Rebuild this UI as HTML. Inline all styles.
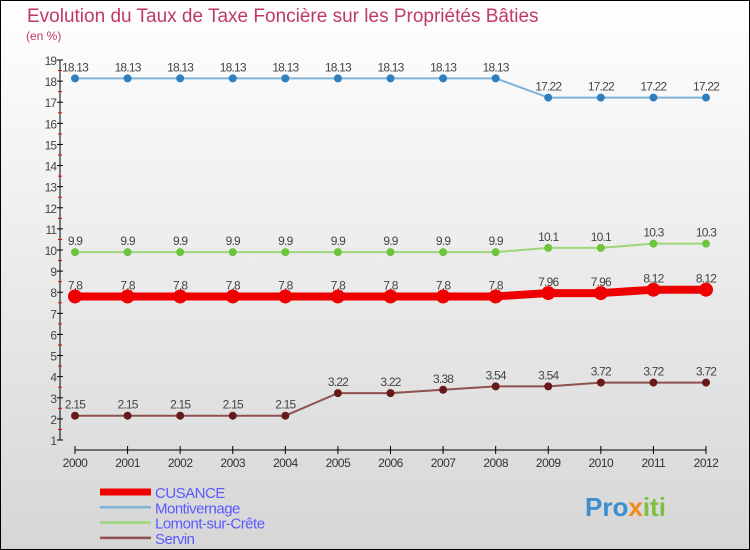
<!DOCTYPE html>
<html><head><meta charset="utf-8"><style>
body{margin:0}
svg{display:block;font-family:"Liberation Sans",sans-serif}
</style></head><body>
<svg width="750" height="550" viewBox="0 0 750 550">
<defs><linearGradient id="bg" x1="0" y1="0" x2="0" y2="1"><stop offset="0" stop-color="#ffffff"/><stop offset="1" stop-color="#d6d6d6"/></linearGradient></defs>
<rect x="0.5" y="0.5" width="749" height="549" fill="url(#bg)" stroke="#000"/>
<text x="27" y="22" font-size="19" fill="#c0386a">Evolution du Taux de Taxe Foncière sur les Propriétés Bâties</text>
<text x="26" y="40" font-size="12" fill="#c0386a">(en %)</text>
<g id="axes"></g>
<g id="series"></g>
<g id="legend"></g>
<text x="585" y="516" font-size="26" font-weight="bold" fill="#3a8fd0">Pro<tspan fill="#f08a1c">x</tspan><tspan fill="#7bc043">iti</tspan></text>
</svg>
<script>
const years=[2000,2001,2002,2003,2004,2005,2006,2007,2008,2009,2010,2011,2012];
const montivernage=[18.13,18.13,18.13,18.13,18.13,18.13,18.13,18.13,18.13,17.22,17.22,17.22,17.22];
const lomont=[9.9,9.9,9.9,9.9,9.9,9.9,9.9,9.9,9.9,10.1,10.1,10.3,10.3];
const cusance=[7.8,7.8,7.8,7.8,7.8,7.8,7.8,7.8,7.8,7.96,7.96,8.12,8.12];
const servin=[2.15,2.15,2.15,2.15,2.15,3.22,3.22,3.38,3.54,3.54,3.72,3.72,3.72];
const yTicks=[1,2,3,4,5,6,7,8,9,10,11,12,13,14,15,16,17,18,19];
const seriesNames=["CUSANCE","Montivernage","Lomont-sur-Crête","Servin"];
const NS="http://www.w3.org/2000/svg";
function X(i){return 75+i*(706-75)/(years.length-1);}
function Y(v){return 440-(v-1)*(440-60)/18;}
function mk(tag,attrs,parent,txt){const e=document.createElementNS(NS,tag);for(const k in attrs)e.setAttribute(k,attrs[k]);if(txt!==undefined)e.textContent=txt;parent.appendChild(e);return e;}
const ax=document.getElementById('axes');
let e=mk('line',{x1:60,y1:60,x2:60,y2:440,stroke:'#000'},ax);


yTicks.forEach(t=>{
 mk('line',{x1:57,y1:Y(t),x2:63,y2:Y(t),stroke:'#000'},ax);
 if(t<19)mk('line',{x1:58,y1:Y(t+0.5),x2:62,y2:Y(t+0.5),stroke:'#e00'},ax);
 const l=mk('text',{x:56,y:Y(t)+5,'font-size':12,'text-anchor':'end',fill:'#444','letter-spacing':'-1'},ax,String(t));
 
 
});
e=mk('line',{x1:75,y1:450,x2:706,y2:450,stroke:'#000'},ax);


years.forEach((y,i)=>{
 mk('line',{x1:X(i),y1:446,x2:X(i),y2:454,stroke:'#000'},ax);
 const l=mk('text',{x:X(i),y:467,'font-size':12,'text-anchor':'middle',fill:'#333','letter-spacing':'-0.5'},ax,String(y));
 
 
});
const sg=document.getElementById('series');
function draw(vals,color,w,r,dot,name){
 const g=mk('g',{},sg);
 
 
 mk('polyline',{points:vals.map((v,i)=>X(i)+','+Y(v)).join(' '),fill:'none',stroke:color,'stroke-width':w,'stroke-linejoin':'round'},g);
 vals.forEach((v,i)=>{
  const c=mk('circle',{cx:X(i),cy:Y(v),r:r,fill:dot},g);
  
  
  const t=mk('text',{x:X(i),y:Y(v)-7,'font-size':12,'text-anchor':'middle',fill:'#444','letter-spacing':'-0.8'},g,String(v));
  
  
 });
}
draw(montivernage,'#7fb2d8',2,4,'#2f7fbf','montivernage-series');
draw(lomont,'#9ed67a',2,4,'#6cc43c','lomont-series');
draw(servin,'#8f5050',2,4,'#661a1a','servin-series');
draw(cusance,'#ee0000',8,7,'#ee0000','cusance-series');
const lg=document.getElementById('legend');
const lc=['#ee0000','#7fb2d8','#9ed67a','#8f5050'],lw=[7,2.5,2.5,2.5];
seriesNames.forEach((n,i)=>{
 const y=492+i*15.3;
 const g=mk('g',{},lg);
 
 
 mk('line',{x1:100,y1:y,x2:151,y2:y,stroke:lc[i],'stroke-width':lw[i]},g);
 mk('text',{x:155,y:y+6,'font-size':15,fill:'#5a5aff','letter-spacing':'-0.5'},g,n);
});
</script>
</body></html>
